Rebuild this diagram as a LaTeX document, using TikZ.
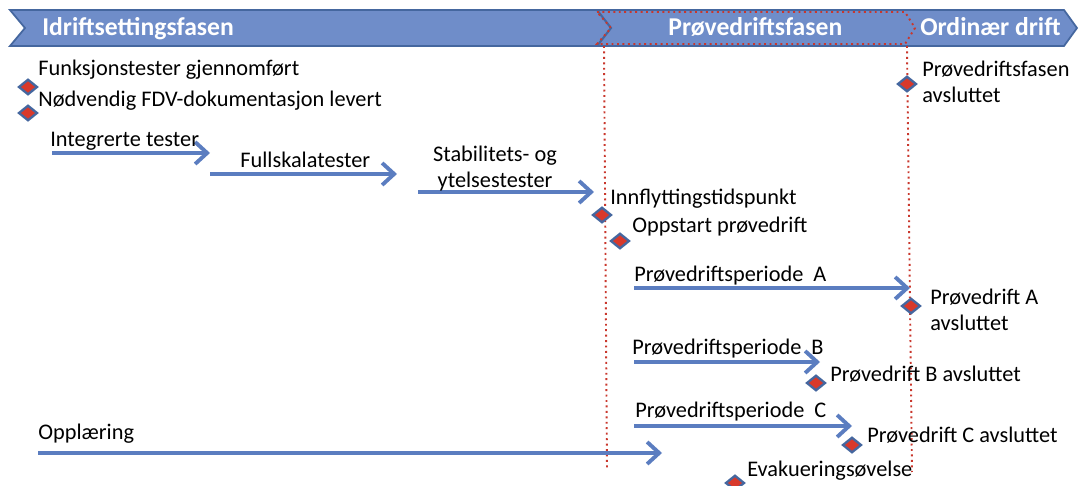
\documentclass[tikz,border=0pt]{standalone}
\usepackage{fontspec}
\setmainfont{Carlito}
\usetikzlibrary{arrows.meta, shapes.geometric}
\definecolor{bannerblue}{HTML}{6F8DC9}
\definecolor{bannerline}{HTML}{45679F}
\definecolor{arrowblue}{HTML}{5B7DC0}
\definecolor{milered}{HTML}{D8392B}
\definecolor{phasered}{HTML}{C9372C}
\tikzset{
	bannerbox/.style={
			fill=bannerblue,
			draw=bannerline,
			line width=1pt,
			line join=miter
		},
	phaseframe/.style={
			draw=phasered,
			dotted,
			line width=1.1pt
		},
	bannertext/.style={
			anchor=base west,
			inner sep=0pt,
			text=white,
			font=\bfseries\fontsize{14.6}{17}\selectfont
		},
	milestone/.style={
			diamond,
			draw=bannerline,
			fill=milered,
			line width=1.3pt,
			minimum width=0.38cm,
			minimum height=0.31cm,
			inner sep=0pt
		},
	labeltext/.style={
			anchor=base west,
			inner sep=0pt,
			align=left,
			font=\fontsize{12.7}{15.2}\selectfont
		},
	phasearrow/.style={
			draw=arrowblue,
			line width=2.2pt,
			-{Straight Barb[length=2.4mm,width=4.4mm]}
		}
}

\begin{document}
\begin{tikzpicture}[x=0.02cm, y=-0.02cm]
\useasboundingbox (0,0) rectangle (1080,486);

% phase banner
\draw[bannerbox] (10,10) -- (1064,10) -- (1077,28) -- (1064,46) -- (10,46) -- (25,28) -- cycle;
\draw[draw=bannerline, line width=1.2pt] (597,10) -- (611,28) -- (597,46);

% dotted frame round the trial run phase
\draw[phaseframe] (597,12) -- (905,12) -- (915,28) -- (905,44) -- (597,44) -- (611,28) -- cycle;
\draw[phaseframe] (604,46) -- (607,470);
\draw[phaseframe] (907,46) -- (912,472);

\node[bannertext] (fase1) at (42,36) {Idriftsettingsfasen};
\node[bannertext] (fase2) at (668,36) {Prøvedriftsfasen};
\node[bannertext] (fase3) at (920,36) {Ordinær drift};

% milestones
\node[milestone] (m1) at (28,87) {};
\node[milestone] (m2) at (28,113) {};
\node[milestone] (m3) at (602,215) {};
\node[milestone] (m4) at (620,241) {};
\node[milestone] (m5) at (907,84) {};
\node[milestone] (m6) at (911,306) {};
\node[milestone] (m7) at (816,383) {};
\node[milestone] (m8) at (852,445) {};
\node[milestone] (m9) at (735,483) {};

\node[labeltext] (l1) at (38,76) {Funksjonstester gjennomført};
\node[labeltext] (l2) at (38,107) {Nødvendig FDV-dokumentasjon levert};
\node[labeltext] (l3) at (610,205) {Innflyttingstidspunkt};
\node[labeltext] (l4) at (632,233) {Oppstart prøvedrift};
\node[labeltext] (l5) at (922,103) {Prøvedriftsfasen\\avsluttet};
\node[labeltext] (l6) at (930,331) {Prøvedrift A\\avsluttet};
\node[labeltext] (l7) at (830,382) {Prøvedrift B avsluttet};
\node[labeltext] (l8) at (867,443) {Prøvedrift C avsluttet};
\node[labeltext] (l9) at (747,477) {Evakueringsøvelse};

% activities
\coordinate (a1s) at (52,153);   \coordinate (a1e) at (210,153);
\coordinate (a2s) at (210,174);  \coordinate (a2e) at (397,174);
\coordinate (a3s) at (418,192);  \coordinate (a3e) at (594,192);
\coordinate (a4s) at (634,288);  \coordinate (a4e) at (910,288);
\coordinate (a5s) at (634,362);  \coordinate (a5e) at (820,362);
\coordinate (a6s) at (634,426);  \coordinate (a6e) at (852,426);
\coordinate (a7s) at (38,453);   \coordinate (a7e) at (662,453);

\draw[phasearrow] (a1s) -- (a1e);
\draw[phasearrow] (a2s) -- (a2e);
\draw[phasearrow] (a3s) -- (a3e);
\draw[phasearrow] (a4s) -- (a4e);
\draw[phasearrow] (a5s) -- (a5e);
\draw[phasearrow] (a6s) -- (a6e);
\draw[phasearrow] (a7s) -- (a7e);

\node[labeltext] (p1) at (50,147) {Integrerte tester};
\node[labeltext] (p2) at (240,168) {Fullskalatester};
\node[labeltext, anchor=base, align=center] (p3) at (495,188) {Stabilitets- og\\ytelsestester};
\node[labeltext] (p4) at (634,282) {Prøvedriftsperiode~ A};
\node[labeltext] (p5) at (632,355) {Prøvedriftsperiode~ B};
\node[labeltext] (p6) at (635,418) {Prøvedriftsperiode~ C};
\node[labeltext] (p7) at (38,440) {Opplæring};

\end{tikzpicture}
\end{document}
